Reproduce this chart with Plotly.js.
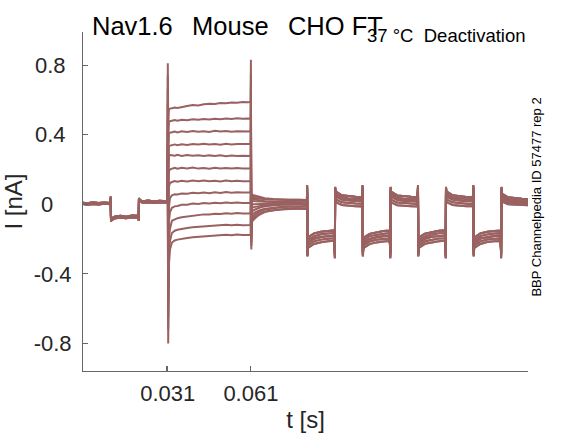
<!DOCTYPE html>
<html>
<head>
<meta charset="utf-8">
<script src="https://cdn.plot.ly/plotly-3.0.1.min.js"></script>
<style>html,body{margin:0;padding:0;background:#fff;}#chart{width:583px;height:438px;}</style>
</head>
<body>
<div id="chart"></div>
<script>
// ---- time bases (s) ----
const t_pre = [0.0004, 0.002, 0.004, 0.006, 0.008, 0.010, 0.0103, 0.01040, 0.01050, 0.0108, 0.012, 0.014, 0.016, 0.018, 0.020, 0.0204, 0.02050, 0.02060, 0.0209, 0.022, 0.024, 0.026, 0.028, 0.030, 0.0309];
const t_step = [0.0310, 0.03115, 0.0314, 0.0318, 0.0325, 0.0335, 0.0345, 0.036, 0.038, 0.040, 0.042, 0.044, 0.046, 0.048, 0.050, 0.052, 0.054, 0.056, 0.058, 0.0600, 0.0609, 0.06100, 0.06115];
const t_tail = [0.0613, 0.0625, 0.064, 0.066, 0.069, 0.072, 0.075];
const t_post = [0.078, 0.0805, 0.0812,
  0.08130, 0.08140, 0.0816, 0.0838, 0.0863, 0.0888, 0.0911,
  0.09130, 0.09140, 0.0916, 0.0938, 0.0963, 0.0988, 0.1011,
  0.10130, 0.10140, 0.1016, 0.1038, 0.1063, 0.1088, 0.1111,
  0.11130, 0.11140, 0.1116, 0.1138, 0.1163, 0.1188, 0.1211,
  0.12130, 0.12140, 0.1216, 0.1238, 0.1263, 0.1288, 0.1311,
  0.13130, 0.13140, 0.1316, 0.1338, 0.1363, 0.1388, 0.1411,
  0.14130, 0.14140, 0.1416, 0.1438, 0.1463, 0.1488, 0.1511,
  0.15130, 0.15140, 0.1516, 0.1538, 0.1563, 0.1588, 0.1610];

// ---- pre-step holding currents (nA), three noise variants ----
const i_pre_a = [0.009, 0.006, 0.011, 0.007, 0.010, 0.006, 0.008, 0.044, -0.10, -0.080, -0.070, -0.066, -0.071, -0.064, -0.068, -0.066, -0.095, 0.036, 0.024, 0.018, 0.021, 0.016, 0.020, 0.017, 0.018];
const i_pre_b = [0.004, 0.007, 0.003, 0.006, 0.002, 0.005, 0.004, 0.040, -0.09, -0.086, -0.076, -0.072, -0.077, -0.070, -0.074, -0.072, -0.090, 0.032, 0.020, 0.013, 0.017, 0.011, 0.015, 0.012, 0.014];
const i_pre_c = [0.001, -0.002, 0.002, -0.001, 0.003, 0.000, 0.001, 0.030, -0.08, -0.090, -0.081, -0.077, -0.080, -0.075, -0.079, -0.077, -0.085, 0.028, 0.016, 0.009, 0.012, 0.007, 0.011, 0.008, 0.010];

// ---- step currents (nA), one per sweep ----
const i_step_1  = [0.81, 0.45, 0.545, 0.550, 0.552, 0.556, 0.553, 0.560, 0.565, 0.570, 0.568, 0.575, 0.578, 0.576, 0.582, 0.580, 0.585, 0.583, 0.588, 0.586, 0.588, 0.83, -0.26];
const i_step_2  = [0.74, 0.35, 0.475, 0.478, 0.480, 0.484, 0.480, 0.486, 0.483, 0.488, 0.486, 0.490, 0.487, 0.492, 0.489, 0.493, 0.490, 0.494, 0.491, 0.493, 0.492, 0.75, -0.24];
const i_step_3  = [0.66, 0.25, 0.410, 0.413, 0.414, 0.418, 0.413, 0.419, 0.416, 0.421, 0.417, 0.420, 0.416, 0.422, 0.418, 0.421, 0.417, 0.420, 0.418, 0.419, 0.418, 0.68, -0.22];
const i_step_4  = [0.58, 0.15, 0.335, 0.338, 0.340, 0.344, 0.339, 0.345, 0.341, 0.347, 0.343, 0.348, 0.344, 0.346, 0.342, 0.348, 0.344, 0.347, 0.345, 0.347, 0.346, 0.60, -0.20];
const i_step_5  = [0.50, 0.05, 0.280, 0.283, 0.282, 0.279, 0.284, 0.278, 0.283, 0.279, 0.282, 0.277, 0.281, 0.278, 0.282, 0.276, 0.280, 0.277, 0.279, 0.278, 0.278, 0.52, -0.18];
const i_step_6  = [0.42, -0.10, 0.190, 0.200, 0.205, 0.209, 0.204, 0.210, 0.206, 0.211, 0.205, 0.209, 0.204, 0.210, 0.206, 0.209, 0.205, 0.208, 0.206, 0.207, 0.207, 0.44, -0.16];
const i_step_7  = [0.34, -0.25, 0.100, 0.122, 0.128, 0.133, 0.129, 0.135, 0.131, 0.136, 0.132, 0.137, 0.132, 0.135, 0.131, 0.136, 0.132, 0.135, 0.133, 0.134, 0.134, 0.36, -0.14];
const i_step_8  = [0.27, -0.40, -0.020, 0.035, 0.052, 0.058, 0.056, 0.062, 0.060, 0.066, 0.063, 0.068, 0.064, 0.069, 0.065, 0.070, 0.066, 0.069, 0.067, 0.069, 0.069, 0.28, -0.12];
const i_step_9  = [0.20, -0.55, -0.100, -0.045, -0.020, -0.012, -0.010, -0.003, -0.002, 0.004, 0.002, 0.007, 0.004, 0.009, 0.006, 0.010, 0.007, 0.010, 0.008, 0.009, 0.009, 0.20, -0.10];
const i_step_10 = [0.14, -0.65, -0.200, -0.140, -0.095, -0.085, -0.080, -0.074, -0.070, -0.066, -0.064, -0.058, -0.059, -0.054, -0.056, -0.051, -0.054, -0.050, -0.053, -0.052, -0.052, 0.14, -0.10];
const i_step_11 = [0.09, -0.72, -0.280, -0.210, -0.165, -0.152, -0.146, -0.140, -0.136, -0.132, -0.130, -0.124, -0.125, -0.120, -0.122, -0.117, -0.121, -0.117, -0.120, -0.119, -0.119, 0.08, -0.10];
const i_step_12 = [0.05, -0.80, -0.350, -0.260, -0.220, -0.208, -0.203, -0.198, -0.194, -0.190, -0.188, -0.182, -0.183, -0.178, -0.180, -0.175, -0.178, -0.174, -0.177, -0.176, -0.176, 0.04, -0.10];

// ---- deactivation tails (nA), one per sweep ----
const i_tail_1  = [-0.100, -0.080, -0.060, -0.045, -0.035, -0.030, -0.027];
const i_tail_2  = [-0.090, -0.070, -0.055, -0.042, -0.033, -0.028, -0.026];
const i_tail_3  = [-0.075, -0.058, -0.044, -0.031, -0.022, -0.016, -0.014];
const i_tail_4  = [-0.060, -0.046, -0.035, -0.026, -0.019, -0.015, -0.013];
const i_tail_5  = [-0.040, -0.030, -0.020, -0.012, -0.006, -0.003, -0.001];
const i_tail_6  = [-0.020, -0.015, -0.010, -0.005, -0.002, 0.000, 0.000];
const i_tail_7  = [0.000, 0.000, 0.002, 0.003, 0.002, 0.001, 0.000];
const i_tail_8  = [0.020, 0.018, 0.016, 0.014, 0.013, 0.012, 0.012];
const i_tail_9  = [0.030, 0.027, 0.022, 0.018, 0.015, 0.014, 0.013];
const i_tail_10 = [0.040, 0.036, 0.032, 0.029, 0.027, 0.026, 0.025];
const i_tail_11 = [0.050, 0.045, 0.038, 0.032, 0.028, 0.026, 0.025];
const i_tail_12 = [0.055, 0.050, 0.042, 0.035, 0.030, 0.027, 0.025];

// ---- pulse train currents (nA), five variants from top to bottom of the band ----
const i_post_a = [0.026, 0.024, 0.025,
  0.11, -0.27, -0.190, -0.168, -0.158, -0.153, -0.150,
  -0.31, 0.10, 0.075, 0.052, 0.046, 0.043, 0.042,
  0.11, -0.27, -0.192, -0.170, -0.160, -0.154, -0.151,
  -0.31, 0.10, 0.073, 0.051, 0.045, 0.043, 0.041,
  0.11, -0.27, -0.190, -0.169, -0.159, -0.152, -0.150,
  -0.31, 0.10, 0.074, 0.052, 0.046, 0.042, 0.041,
  0.11, -0.27, -0.191, -0.168, -0.158, -0.153, -0.151,
  -0.31, 0.10, 0.062, 0.040, 0.035, 0.032, 0.031];
const i_post_d = [0.013, 0.011, 0.012,
  0.10, -0.28, -0.205, -0.184, -0.172, -0.168, -0.165,
  -0.30, 0.09, 0.060, 0.040, 0.033, 0.031, 0.030,
  0.10, -0.28, -0.207, -0.183, -0.174, -0.169, -0.166,
  -0.30, 0.09, 0.058, 0.038, 0.032, 0.031, 0.029,
  0.10, -0.28, -0.206, -0.185, -0.173, -0.167, -0.165,
  -0.30, 0.09, 0.059, 0.039, 0.034, 0.030, 0.029,
  0.10, -0.28, -0.205, -0.183, -0.173, -0.168, -0.166,
  -0.30, 0.09, 0.051, 0.031, 0.026, 0.023, 0.022];
const i_post_b = [0.001, -0.002, 0.000,
  0.09, -0.29, -0.220, -0.198, -0.188, -0.183, -0.180,
  -0.29, 0.08, 0.045, 0.027, 0.021, 0.019, 0.018,
  0.09, -0.29, -0.222, -0.199, -0.189, -0.184, -0.181,
  -0.29, 0.08, 0.044, 0.026, 0.020, 0.019, 0.017,
  0.09, -0.29, -0.221, -0.198, -0.187, -0.183, -0.180,
  -0.29, 0.08, 0.045, 0.027, 0.021, 0.018, 0.017,
  0.09, -0.29, -0.220, -0.197, -0.188, -0.182, -0.180,
  -0.29, 0.08, 0.040, 0.021, 0.016, 0.014, 0.013];
const i_post_e = [-0.012, -0.014, -0.013,
  0.075, -0.295, -0.235, -0.213, -0.203, -0.198, -0.195,
  -0.28, 0.07, 0.028, 0.011, 0.006, 0.004, 0.003,
  0.075, -0.295, -0.237, -0.214, -0.204, -0.199, -0.196,
  -0.28, 0.07, 0.027, 0.010, 0.005, 0.004, 0.002,
  0.075, -0.295, -0.236, -0.212, -0.203, -0.197, -0.195,
  -0.28, 0.07, 0.028, 0.011, 0.006, 0.003, 0.002,
  0.075, -0.295, -0.235, -0.213, -0.202, -0.198, -0.196,
  -0.28, 0.07, 0.027, 0.010, 0.006, 0.005, 0.004];
const i_post_c = [-0.024, -0.027, -0.025,
  0.06, -0.30, -0.250, -0.228, -0.218, -0.213, -0.210,
  -0.27, 0.06, 0.012, -0.004, -0.009, -0.011, -0.012,
  0.06, -0.30, -0.252, -0.229, -0.219, -0.214, -0.211,
  -0.27, 0.06, 0.011, -0.005, -0.010, -0.011, -0.013,
  0.06, -0.30, -0.250, -0.227, -0.218, -0.212, -0.210,
  -0.27, 0.06, 0.012, -0.004, -0.009, -0.012, -0.012,
  0.06, -0.30, -0.251, -0.228, -0.217, -0.213, -0.211,
  -0.27, 0.06, 0.015, 0.000, -0.003, -0.004, -0.005];

// ---- axis ticks ----
const x_tickvals = [0.0305, 0.031, 0.061];
const x_ticktext = ['', '0.031', '0.061'];
const y_tickvals = [-0.8, -0.4, 0, 0.4, 0.8];
const y_ticktext = ['-0.8', '-0.4', '0\u2007\u2008', '0.4\u2008', '0.8\u2008'];

// ---- sweep assembly ----
const steps = [i_step_1, i_step_2, i_step_3, i_step_4, i_step_5, i_step_6, i_step_7, i_step_8, i_step_9, i_step_10, i_step_11, i_step_12];
const tails = [i_tail_1, i_tail_2, i_tail_3, i_tail_4, i_tail_5, i_tail_6, i_tail_7, i_tail_8, i_tail_9, i_tail_10, i_tail_11, i_tail_12];
const pres = [i_pre_a, i_pre_b, i_pre_c, i_pre_a, i_pre_b, i_pre_c, i_pre_a, i_pre_b, i_pre_c, i_pre_a, i_pre_b, i_pre_c];
const posts = [i_post_c, i_post_c, i_post_e, i_post_e, i_post_b, i_post_b, i_post_b, i_post_d, i_post_d, i_post_a, i_post_a, i_post_a];

const tAll = t_pre.concat(t_step, t_tail, t_post);
const lineColor = 'rgb(154,97,97)';
const data = steps.map((s, k) => ({
  type: 'scatter', mode: 'lines',
  x: tAll,
  y: pres[k].concat(s, tails[k], posts[k]),
  line: {color: lineColor, width: 2},
  hoverinfo: 'skip', showlegend: false
}));

const FONT = 'Liberation Sans, Arial, Helvetica, sans-serif';
const layout = {
  width: 583, height: 438,
  margin: {l: 83, r: 55, t: 32, b: 67},
  paper_bgcolor: '#fff', plot_bgcolor: '#fff',
  showlegend: false,
  title: {
    text: 'Nav1.6\u00a0\u00a0\u2009Mouse\u00a0\u00a0\u2009CHO FT',
    font: {family: FONT, size: 25.5, color: '#000'},
    xref: 'container', yref: 'container',
    x: 92 / 583, xanchor: 'left',
    y: 1 - 26.5 / 438, yanchor: 'middle'
  },
  xaxis: {
    range: [0.0004, 0.161],
    showgrid: false, zeroline: false,
    showline: true, linecolor: '#666', linewidth: 1,
    ticks: 'inside', ticklen: 5, tickcolor: '#666', tickwidth: 1,
    tickvals: x_tickvals, ticktext: x_ticktext,
    tickfont: {family: FONT, size: 22, color: '#262626'},
    ticklabelstandoff: 3,
    title: {text: 't [s]', font: {family: FONT, size: 24, color: '#262626'}, standoff: 5},
    fixedrange: true
  },
  yaxis: {
    range: [-0.958, 0.99],
    showgrid: false, zeroline: false,
    showline: true, linecolor: '#666', linewidth: 1,
    ticks: 'inside', ticklen: 5, tickcolor: '#666', tickwidth: 1,
    tickvals: y_tickvals, ticktext: y_ticktext,
    tickfont: {family: FONT, size: 22, color: '#262626'},
    ticklabelstandoff: 6,
    title: {text: 'I [nA]', font: {family: FONT, size: 24, color: '#262626'}, standoff: 6},
    fixedrange: true
  },
  annotations: [
    {
      text: '37 \u00b0C\u00a0\u00a0Deactivation',
      xref: 'paper', yref: 'paper',
      x: (365 - 83) / 444.4, xanchor: 'left',
      y: (371 - 35) / 339, yanchor: 'middle',
      showarrow: false,
      font: {family: FONT, size: 18.5, color: '#000'}
    },
    {
      text: 'BBP Channelpedia ID 57477 rep 2',
      xref: 'paper', yref: 'paper',
      x: (535 - 83) / 444.4, xanchor: 'center',
      y: (371 - 197) / 339, yanchor: 'middle',
      textangle: -90,
      showarrow: false,
      font: {family: FONT, size: 13, color: '#000'}
    }
  ]
};

Plotly.newPlot('chart', data, layout, {displayModeBar: false, staticPlot: true});
</script>
</body>
</html>
